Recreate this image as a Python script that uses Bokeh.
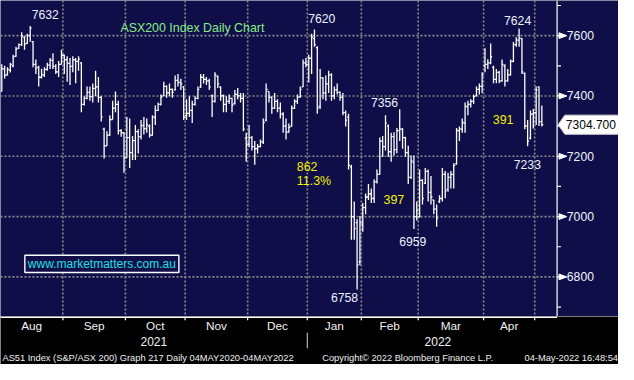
import math
from bokeh.plotting import figure
from bokeh.models import Range1d
from bokeh.layouts import column
from bokeh.embed import file_html
from bokeh.resources import INLINE
from bokeh.core.properties import value

# ---------------- data ----------------
month_labels = ["Aug", "Sep", "Oct", "Nov", "Dec", "Jan", "Feb", "Mar", "Apr", ""]
month_days = [22, 22, 21, 22, 21, 19, 20, 23, 18, 3]
year_labels = ["2021", "2022"]

opens = [
    7415, 7490, 7470, 7485, 7500, 7532, 7558, 7570, 7595, 7575, 7600, 7580, 7505, 7495, 7462, 7470, 7488, 7502, 7518, 7498, 7480, 7505,
    7535, 7520, 7508, 7498, 7520, 7515, 7510, 7372, 7392, 7412, 7398, 7425, 7430, 7395, 7290, 7235, 7270, 7322, 7360, 7372, 7285, 7278,
    7195, 7262, 7212, 7252, 7282, 7265, 7302, 7292, 7300, 7270, 7330, 7352, 7372, 7400, 7432, 7410, 7422, 7420, 7452, 7445, 7430,
    7335, 7342, 7352, 7372, 7392, 7430, 7462, 7455, 7450, 7400, 7382, 7465, 7430, 7400, 7372, 7382, 7392, 7375, 7405, 7400, 7392, 7260,
    7240, 7262, 7232, 7225, 7232, 7248, 7320, 7415, 7395, 7360, 7382, 7360, 7340, 7300, 7280, 7300, 7360, 7382, 7396, 7430, 7510,
    7505, 7525, 7590, 7560, 7365, 7460, 7410, 7440, 7470, 7400, 7420, 7412, 7395, 7345, 7330, 7165, 7000, 6980, 6850,
    6975, 7030, 7065, 7075, 7060, 7115, 7140, 7250, 7232, 7300, 7215, 7265, 7222, 7285, 7290, 7262, 7212, 7130, 7180, 7000,
    7000, 7120, 7110, 7150, 7080, 7055, 7025, 7050, 7060, 7140, 7090, 7130, 7140, 7175, 7285, 7290, 7310, 7365, 7372, 7382, 7400, 7422, 7432,
    7500, 7505, 7510, 7495, 7455, 7478, 7450, 7500, 7450, 7470, 7515, 7570, 7585, 7590, 7475, 7300, 7260, 7340,
    7345, 7430, 7315,
]
highs = [
    7505, 7500, 7495, 7510, 7537, 7563, 7574, 7611, 7598, 7606, 7632, 7582, 7521, 7500, 7490, 7495, 7510, 7526, 7542, 7505, 7516, 7553,
    7537, 7532, 7526, 7532, 7526, 7532, 7512, 7399, 7431, 7431, 7441, 7484, 7463, 7399, 7295, 7283, 7336, 7384, 7415, 7384, 7290, 7280,
    7330, 7325, 7267, 7304, 7290, 7320, 7330, 7325, 7305, 7336, 7368, 7378, 7405, 7447, 7435, 7441, 7425, 7468, 7473, 7457, 7431,
    7389, 7399, 7384, 7399, 7431, 7473, 7473, 7463, 7457, 7405, 7479, 7468, 7431, 7405, 7399, 7405, 7394, 7420, 7426, 7410, 7410, 7278,
    7304, 7267, 7251, 7241, 7256, 7325, 7441, 7415, 7399, 7410, 7389, 7378, 7346, 7325, 7309, 7368, 7389, 7405, 7431, 7521, 7526,
    7537, 7606, 7620, 7565, 7489, 7462, 7468, 7484, 7475, 7431, 7441, 7415, 7410, 7352, 7341, 7172, 7050, 6992, 7002,
    7045, 7077, 7108, 7093, 7124, 7156, 7262, 7267, 7336, 7305, 7278, 7280, 7294, 7356, 7294, 7265, 7235, 7203, 7203, 7050,
    7156, 7124, 7161, 7156, 7135, 7055, 7040, 7071, 7161, 7151, 7145, 7151, 7177, 7294, 7299, 7325, 7378, 7384, 7389, 7405, 7431, 7441, 7479,
    7558, 7522, 7574, 7500, 7489, 7484, 7521, 7505, 7489, 7521, 7579, 7595, 7624, 7592, 7478, 7320, 7352, 7357,
    7431, 7431, 7368,
]
lows = [
    7415, 7458, 7468, 7478, 7495, 7530, 7556, 7566, 7553, 7572, 7580, 7495, 7473, 7431, 7458, 7463, 7484, 7489, 7489, 7473, 7463, 7505,
    7473, 7447, 7436, 7479, 7442, 7484, 7346, 7368, 7389, 7384, 7378, 7399, 7378, 7315, 7193, 7235, 7267, 7322, 7346, 7272, 7265, 7145,
    7195, 7161, 7188, 7188, 7209, 7256, 7272, 7278, 7262, 7268, 7304, 7350, 7368, 7400, 7394, 7399, 7394, 7418, 7431, 7420, 7320,
    7320, 7330, 7310, 7368, 7389, 7426, 7441, 7436, 7420, 7330, 7378, 7426, 7384, 7346, 7346, 7373, 7346, 7372, 7389, 7378, 7283, 7182,
    7230, 7219, 7172, 7209, 7230, 7241, 7315, 7378, 7341, 7357, 7346, 7325, 7278, 7256, 7278, 7298, 7357, 7373, 7394, 7430, 7495,
    7445, 7473, 7563, 7341, 7357, 7389, 7384, 7410, 7384, 7389, 7405, 7384, 7336, 7299, 7156, 6923, 6923, 6758, 6839,
    6950, 7008, 7055, 7045, 7045, 7110, 7140, 7198, 7219, 7198, 7182, 7203, 7210, 7251, 7225, 7198, 7108, 7125, 6959, 6987,
    6997, 7040, 7108, 7050, 7040, 7008, 6966, 7045, 7050, 7061, 7082, 7093, 7093, 7172, 7251, 7278, 7278, 7336, 7362, 7373, 7399, 7405, 7410,
    7479, 7489, 7505, 7442, 7442, 7442, 7447, 7431, 7447, 7468, 7512, 7563, 7563, 7473, 7290, 7233, 7256, 7292,
    7304, 7300, 7299,
]
closes = [
    7490, 7468, 7488, 7505, 7530, 7555, 7570, 7600, 7572, 7600, 7625, 7505, 7492, 7462, 7470, 7488, 7502, 7518, 7498, 7480, 7505, 7535,
    7520, 7508, 7498, 7520, 7515, 7522, 7372, 7392, 7412, 7398, 7425, 7430, 7395, 7330, 7235, 7270, 7322, 7360, 7372, 7285, 7278, 7195,
    7262, 7212, 7252, 7282, 7265, 7302, 7292, 7305, 7270, 7330, 7352, 7372, 7396, 7432, 7410, 7422, 7412, 7452, 7445, 7440, 7330,
    7342, 7352, 7372, 7392, 7422, 7462, 7455, 7450, 7430, 7382, 7470, 7440, 7400, 7372, 7382, 7392, 7370, 7405, 7400, 7392, 7290, 7240,
    7262, 7232, 7225, 7232, 7248, 7312, 7422, 7395, 7360, 7382, 7360, 7340, 7300, 7280, 7296, 7360, 7382, 7396, 7422, 7510, 7505,
    7525, 7595, 7570, 7360, 7460, 7410, 7440, 7470, 7400, 7420, 7412, 7395, 7345, 7320, 7170, 7000, 6960, 6840, 6980,
    7030, 7065, 7075, 7060, 7115, 7140, 7250, 7232, 7310, 7215, 7265, 7222, 7285, 7290, 7262, 7212, 7130, 7185, 7000, 7020,
    7120, 7060, 7150, 7080, 7065, 7025, 6995, 7060, 7140, 7085, 7130, 7140, 7170, 7285, 7290, 7312, 7365, 7372, 7382, 7398, 7422, 7432, 7470,
    7505, 7510, 7530, 7455, 7478, 7450, 7505, 7450, 7470, 7515, 7570, 7585, 7592, 7480, 7300, 7250, 7340, 7345,
    7420, 7315, 7304.7,
]
last_price = 7304.700
major_ticks = [6800, 7000, 7200, 7400, 7600]
minor_ticks = [6700, 6900, 7100, 7300, 7500, 7700]

value_labels = ["7632", "7620", "7356", "6958", "6758", "7624", "7233"]
value_labels[3] = "6959"
move_labels = ["862", "11.3%", "397", "391"]
title_text = "ASX200 Index Daily Chart"
url_text = "www.marketmatters.com.au"
footer_left = "AS51 Index (S&P/ASX 200) Graph 217  Daily 04MAY2020-04MAY2022"
footer_mid = "Copyright\u00a9 2022 Bloomberg Finance L.P."
footer_right = "04-May-2022 16:48:54"

# ---------------- layout helpers (reference-pixel -> data) ----------------
W, TOP_H, BOT_H = 618, 316, 48
PX_PER_BAR = 2.916
X0 = -0.45
S = 0.965  # font scale

def xr(px):
    return X0 + px / PX_PER_BAR

def yr(py):
    return 7600 - (py - 36.7) * 3.175

NAVY = "#100e48"
GRID = "#8a8a8a"
FONT = value("Liberation Sans")

def fs(px):
    return value(f"{px * S:.1f}px")

n = len(closes)
xs = list(range(n))
bounds = []
acc = 0
for d in month_days:
    acc += d
    bounds.append(acc - 0.5)
starts = [-0.5] + bounds[:-1]

x_range = Range1d(xr(0), xr(634))

p1 = figure(width=W, height=TOP_H, x_range=x_range, y_range=Range1d(yr(330), yr(0)),
            output_backend="svg", toolbar_location=None,
            x_axis_location=None, y_axis_location=None, min_border=0)
p1.grid.visible = False
p1.outline_line_color = None
p1.background_fill_color = NAVY
p1.border_fill_color = NAVY

# grid lines
p1.segment(x0=bounds[:-1], x1=bounds[:-1], y0=[yr(0)] * (len(bounds) - 1), y1=[yr(330)] * (len(bounds) - 1),
           line_color=GRID, line_width=1.6, line_dash="2 2")
p1.segment(x0=[xr(0)] * len(major_ticks), x1=[xr(571)] * len(major_ticks), y0=major_ticks, y1=major_ticks,
           line_color=GRID, line_width=1.6, line_dash="2 2")

# OHLC bars
p1.segment(x0=xs, x1=xs, y0=lows, y1=highs, line_color="white", line_width=1.3)
p1.segment(x0=[x - 0.5 for x in xs], x1=xs, y0=opens, y1=opens, line_color="white", line_width=1.3)
p1.segment(x0=xs, x1=[x + 0.5 for x in xs], y0=closes, y1=closes, line_color="white", line_width=1.3)

# right axis
ax = xr(571)
p1.segment(x0=[ax], x1=[ax], y0=[yr(0)], y1=[yr(330)], line_color="white", line_width=1.2)
p1.segment(x0=[ax] * len(minor_ticks), x1=[xr(575)] * len(minor_ticks), y0=minor_ticks, y1=minor_ticks,
           line_color="white", line_width=1.2)
p1.segment(x0=[ax] * len(major_ticks), x1=[xr(575)] * len(major_ticks), y0=major_ticks, y1=major_ticks,
           line_color="white", line_width=1.2)
hh = 3 * 3.175
p1.patches(xs=[[xr(573), xr(581), xr(573)] for _ in major_ticks],
           ys=[[v + hh, v, v - hh] for v in major_ticks], fill_color="white", line_color="white")
p1.text(x=[xr(581)] * len(major_ticks), y=major_ticks, text=[str(v) for v in major_ticks],
        text_font=FONT, text_font_size=fs(12.6), text_color="#eef3ff",
        text_align="left", text_baseline="middle")

# price tag
th = 10 * 3.175
p1.patch(x=[xr(572), xr(579), xr(634), xr(634), xr(579)],
         y=[last_price, last_price + th, last_price + th, last_price - th, last_price - th],
         fill_color="white", line_color="#d0d0d0")
p1.text(x=[xr(580)], y=[last_price], text=[f"{last_price:.3f}"], text_font=FONT, text_font_size=fs(12.4),
        text_color="black", text_align="left", text_baseline="middle")

# value labels (white)
vx = [46, 329.5, 394, 423, 353, 530.5, 540.5]
vy = [15, 19, 107, 252, 310, 21, 171]
p1.text(x=[xr(v) for v in vx], y=[yr(v) for v in vy], text=value_labels, text_font=FONT,
        text_font_size=fs(12.6), text_color="#eaf2ff", text_align="center", text_baseline="middle")

# move labels (yellow)
mx = [304, 304, 393, 505]
my = [173, 189, 208, 124]
p1.text(x=[xr(v) for v in mx], y=[yr(v) for v in my], text=move_labels, text_font=FONT,
        text_font_size=fs(12.8), text_color="#f4f400", text_align="left", text_baseline="middle")

# title
p1.text(x=[xr(123)], y=[yr(29)], text=[title_text], text_font=FONT, text_font_size=fs(12.8),
        text_color="#86ec86", text_align="left", text_baseline="middle")

# url box
p1.quad(left=[xr(25)], right=[xr(183)], top=[yr(266)], bottom=[yr(284)], fill_color=NAVY,
        line_color="white", line_width=1.4)
p1.text(x=[xr(104)], y=[yr(275)], text=[url_text], text_font=FONT, text_font_size=fs(12.4),
        text_color="#1fe0e0", text_align="center", text_baseline="middle")

# ---------------- bottom band ----------------
p2 = figure(width=W, height=BOT_H, x_range=x_range, y_range=Range1d(0, 50),
            output_backend="svg", toolbar_location=None,
            x_axis_location=None, y_axis_location=None, min_border=0)
p2.grid.visible = False
p2.outline_line_color = None
p2.background_fill_color = "black"
p2.border_fill_color = "black"

p2.segment(x0=[xr(0)], x1=[ax], y0=[49.2], y1=[49.2], line_color="white", line_width=1.5)
p2.segment(x0=bounds[:-1], x1=bounds[:-1], y0=[50] * (len(bounds) - 1), y1=[46] * (len(bounds) - 1),
           line_color="white", line_width=1.2)
centers = [(a + b) / 2 for a, b in zip(starts, bounds)]
p2.text(x=centers, y=[40] * len(centers), text=month_labels, text_font=FONT, text_font_size=fs(12.2),
        text_color="#f2f2f2", text_align="center", text_baseline="middle")
year_split = bounds[4]
p2.text(x=[(starts[0] + year_split) / 2, (year_split + xr(571)) / 2 + 2], y=[24, 24], text=year_labels,
        text_font=FONT, text_font_size=fs(12.4), text_color="#f2f2f2",
        text_align="center", text_baseline="middle")
p2.segment(x0=[year_split], x1=[year_split], y0=[33], y1=[17], line_color="#b0b0b0", line_width=1.2)
p2.text(x=[xr(2), xr(330)], y=[7, 7], text=[footer_left, footer_mid], text_font=FONT,
        text_font_size=fs(9.6), text_color="#f0f0f0", text_align="left", text_baseline="middle")
p2.text(x=[xr(633.5)], y=[7], text=[footer_right], text_font=FONT,
        text_font_size=fs(9.6), text_color="#f0f0f0", text_align="right", text_baseline="middle")

layout = column(p1, p2, spacing=0)
open("out.html", "w").write(file_html(layout, INLINE))
